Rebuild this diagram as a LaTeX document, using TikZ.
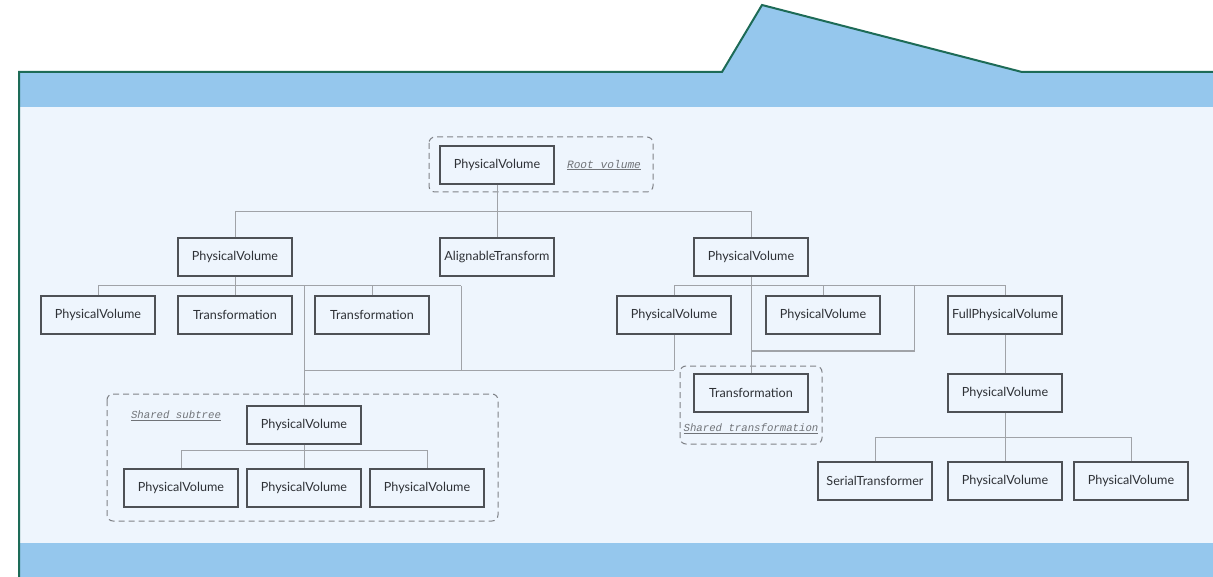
\documentclass[tikz,border=0pt]{standalone}
\usepackage{fontspec}
\setmainfont{Lato}
\newfontfamily\monoit{Liberation Mono}[ItalicFont=* Italic]
\definecolor{bandc}{HTML}{95C7ED}
\definecolor{bodyc}{HTML}{EEF5FD}
\definecolor{framec}{HTML}{1D6B57}
\definecolor{linec}{HTML}{A0A3A8}
\definecolor{boxc}{HTML}{4E5156}
\definecolor{dashc}{HTML}{808388}
\definecolor{labc}{HTML}{707378}
\definecolor{txtc}{HTML}{2E3136}
\tikzset{
  vbox/.style={draw=boxc, line width=1.2pt, fill=bodyc, minimum width=114pt, minimum height=38pt, inner sep=0pt, text=txtc, font=\fontsize{12.6}{14}\selectfont},
  conn/.style={draw=linec, line width=1pt},
  grp/.style={draw=dashc, line width=1pt, dash pattern=on 6pt off 4pt, rounded corners=6pt},
  glabel/.style={text=labc, font=\fontsize{10.7}{12}\selectfont\monoit\itshape, inner sep=0pt},
}
\begin{document}
\begin{tikzpicture}[x=1pt,y=-1pt]
\useasboundingbox (0,0) rectangle (1213,577);
\fill[white] (0,0) rectangle (1213,577);
% frame
\fill[bodyc] (19,107) rectangle (1213,543);
\fill[bandc] (19,72) rectangle (1213,107);
\fill[bandc] (19,543) rectangle (1213,577);
\fill[bandc] (722,72) -- (762,5) -- (1022,72) -- cycle;
\draw[framec, line width=2pt] (19,577) -- (19,72) -- (722,72) -- (762,5) -- (1022,72) -- (1213,72);

% group frames
\draw[grp] (429,137) rectangle (653,192);
\draw[grp] (680,366) rectangle (822,444);
\draw[grp] (107,394) rectangle (498,521);

% nodes
\node[vbox] (root) at (497,165) {PhysicalVolume};
\node[glabel, font=\fontsize{11.2}{12}\selectfont\monoit\itshape] (rootlab) at (604,165) {\underline{Root volume}};

\node[vbox] (pv1) at (235,257) {PhysicalVolume};
\node[vbox] (at) at (497,257) {AlignableTransform};
\node[vbox] (pv2) at (751,257) {PhysicalVolume};

\node[vbox] (a1) at (98,315) {PhysicalVolume};
\node[vbox] (a2) at (235,315) {Transformation};
\node[vbox] (a3) at (372,315) {Transformation};

\node[vbox] (b1) at (674,315) {PhysicalVolume};
\node[vbox] (b2) at (823,315) {PhysicalVolume};
\node[vbox] (b3) at (1005,315) {FullPhysicalVolume};

\node[vbox] (st) at (751,393) {Transformation};
\node[glabel] (stlab) at (751,429) {\underline{Shared transformation}};

\node[vbox] (c1) at (1005,393) {PhysicalVolume};
\node[vbox] (d1) at (875,481) {SerialTransformer};
\node[vbox] (d2) at (1005,481) {PhysicalVolume};
\node[vbox] (d3) at (1131,481) {PhysicalVolume};

\node[vbox] (s0) at (304,425) {PhysicalVolume};
\node[glabel] (sslab) at (176,416) {\underline{Shared subtree}};
\node[vbox] (s1) at (181,488) {PhysicalVolume};
\node[vbox] (s2) at (304,488) {PhysicalVolume};
\node[vbox] (s3) at (427,488) {PhysicalVolume};

% junction coordinates
\coordinate (hl) at (304,286);
\coordinate (jl) at (461,286);
\coordinate (jm) at (674,370);
\coordinate (jx) at (304,370);
\coordinate (jr) at (914,286);
\coordinate (jr2) at (751,351);

% connectors
\draw[conn] (root.south) -- (at.north);
\draw[conn] (pv1.north) -- ++(0,-26) -| (pv2.north);

\draw[conn] (pv1.south) -- (a2.north);
\draw[conn] (a1.north) |- (jl);
\draw[conn] (a3.north) -- ++(0,-10);
\draw[conn] (hl) -- (s0.north);
\draw[conn] (jl) |- (jm);
\draw[conn] (jx) -- (jm);
\draw[conn] (b1.south) -- (jm);

\draw[conn] (b1.north) -- ++(0,-10) -| (b3.north);
\draw[conn] (b2.north) -- ++(0,-10);
\draw[conn] (pv2.south) -- (st.north);
\draw[conn] (jr) |- (jr2);

\draw[conn] (b3.south) -- (c1.north);
\draw[conn] (d1.north) -- ++(0,-24) -| (d3.north);
\draw[conn] (c1.south) -- (d2.north);

\draw[conn] (s1.north) -- ++(0,-18) -| (s3.north);
\draw[conn] (s0.south) -- (s2.north);
\end{tikzpicture}
\end{document}
